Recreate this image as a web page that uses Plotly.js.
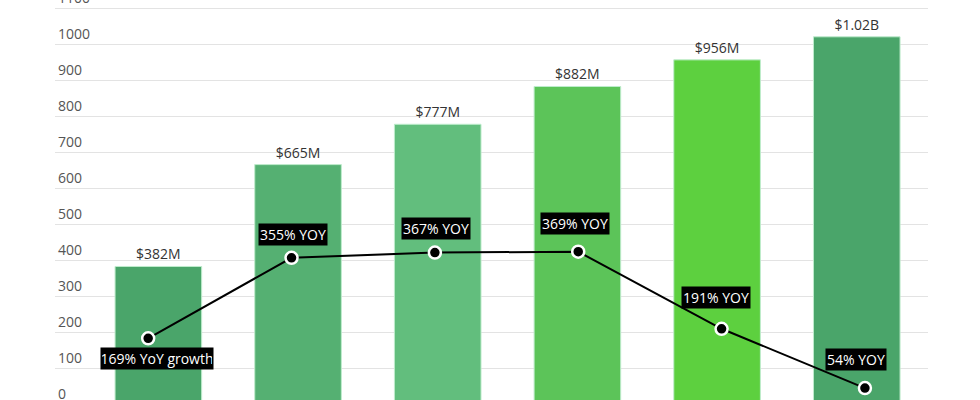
<!DOCTYPE html>
<html>
<head>
<meta charset="utf-8">
<script src="https://cdn.plot.ly/plotly-3.0.1.min.js"></script>
<style>
html, body { margin: 0; padding: 0; overflow: hidden; background: #fff; }
#chart { width: 980px; height: 424px; position: absolute; left: 0; top: -20px; }
</style>
</head>
<body>
<div id="chart"></div>
<script>
// ---- data ----
const categories = ['Y1', 'Y2', 'Y3', 'Y4', 'Y5', 'Y6'];
const revenue = [382, 665, 777, 882, 956, 1020];
const revenueLabels = ['$382M', '$665M', '$777M', '$882M', '$956M', '$1.02B'];
const yoyGrowth = [169, 355, 367, 369, 191, 54];
const yoyLabels = ['169% YoY growth', '355% YOY', '367% YOY', '369% YOY', '191% YOY', '54% YOY'];

// ---- styles ----
const barColors = ['#4aa56a', '#55b072', '#62be7d', '#5cc459', '#5dd03f', '#4aa56a'];
const labelYShift = [-20, 23.6, 24.1, 28.7, 31.3, 29];
const labelXShift = [-1.3, -5.5, -2, -2, -1.2, -1.2];

const bars = {
  type: 'bar',
  x: categories,
  y: revenue,
  text: revenueLabels,
  textposition: 'outside',
  texttemplate: '%{text}',
  cliponaxis: false,
  textfont: { family: 'Open Sans', size: 14, color: '#333' },
  marker: { color: barColors, line: { color: '#bfeccd', width: 1 } },
  width: 0.62,
  hoverinfo: 'skip',
  showlegend: false
};

const line = {
  type: 'scatter',
  mode: 'lines+markers',
  x: categories,
  y: yoyGrowth,
  xaxis: 'x2',
  yaxis: 'y2',
  line: { color: '#000', width: 2 },
  marker: { color: '#000', size: 12, line: { color: '#fff', width: 2.5 } },
  cliponaxis: false,
  hoverinfo: 'skip',
  showlegend: false
};

const annotations = yoyLabels.map((t, i) => {
  const a = {
    x: categories[i], y: yoyGrowth[i], xref: 'x', yref: 'y2',
    text: t, showarrow: false,
    font: { family: 'Open Sans', size: 14, color: '#fff' },
    bgcolor: '#000', borderpad: 1,
    xshift: labelXShift[i], yshift: labelYShift[i]
  };
  if (i === 0) a.width = 110;
  return a;
});

const layout = {
  width: 980, height: 424,
  margin: { l: 55, r: 52, t: 0, b: 0, pad: 0 },
  paper_bgcolor: '#fff', plot_bgcolor: '#fff',
  font: { family: 'Open Sans', size: 14, color: '#555' },
  xaxis: {
    type: 'category', range: [-0.74, 5.51],
    showticklabels: false, showgrid: false, zeroline: false, showline: false, ticks: ''
  },
  xaxis2: {
    type: 'category', overlaying: 'x', range: [-0.65, 5.44],
    showticklabels: false, showgrid: false, zeroline: false, showline: false, ticks: ''
  },
  yaxis: {
    range: [0, 1177.8], dtick: 100, tick0: 0,
    ticklabelposition: 'inside top',
    tickfont: { family: 'Open Sans', size: 14, color: '#555' },
    gridcolor: '#e3e3e3', gridwidth: 1,
    zeroline: false, showline: false, ticks: ''
  },
  yaxis2: {
    overlaying: 'y', side: 'right', range: [17.3, 996.5],
    showticklabels: false, showgrid: false, zeroline: false, showline: false, ticks: ''
  },
  annotations: annotations
};

Plotly.newPlot('chart', [bars, line], layout, { displayModeBar: false, staticPlot: true });
</script>
</body>
</html>
